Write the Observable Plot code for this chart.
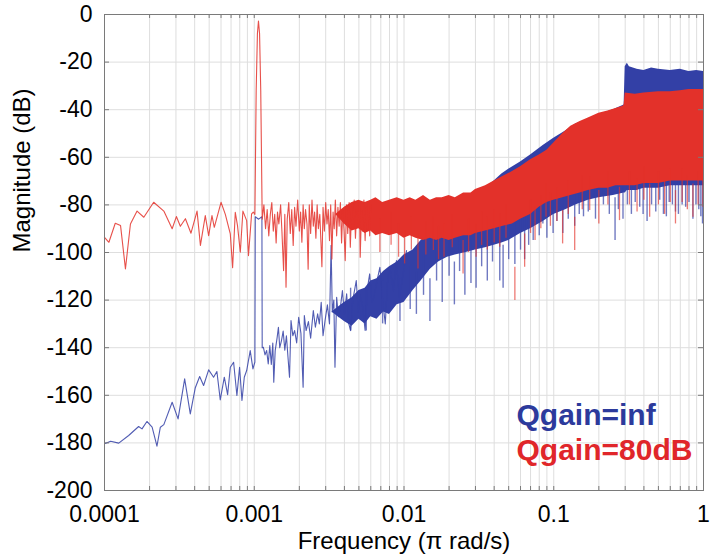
<!DOCTYPE html>
<html><head><meta charset="utf-8">
<script src="https://cdn.jsdelivr.net/npm/d3@7"></script>
<script src="https://cdn.jsdelivr.net/npm/@observablehq/plot@0.6"></script>
<style>body{margin:0;background:#fff;}</style>
</head><body><div id="chart"></div>
<script>
// ---------- tick labels ----------
const xTickValues = [0.0001, 0.001, 0.01, 0.1, 1];
const xTickLabels = ["0.0001", "0.001", "0.01", "0.1", "1"];
const yTickValues = [-200, -180, -160, -140, -120, -100, -80, -60, -40, -20, 0];
const yTickLabels = ["-200", "-180", "-160", "-140", "-120", "-100", "-80", "-60", "-40", "-20", "0"];
const xAxisLabel = "Frequency (\u03c0 rad/s)";
const yAxisLabel = "Magnitude (dB)";
const seriesNames = ["Qgain=inf", "Qgain=80dB"];

// ---------- Qgain=inf (blue): sparse trace ----------
const blueLineF = [1e-4,1.1e-4,1.245e-4,1.45e-4,1.69e-4,1.78e-4,1.92e-4,2.08e-4,2.24e-4,2.36e-4,2.49e-4,2.83e-4,3.1e-4,3.43e-4,3.74e-4,4.04e-4,4.32e-4,4.59e-4,4.96e-4,5.35e-4,5.63e-4,5.93e-4,6.31e-4,6.64e-4,6.92e-4,7.28e-4,7.66e-4,7.98e-4,8.28e-4,8.58e-4,8.9e-4,9.4e-4,9.8e-4,1.01e-3,1.016e-3,1.07e-3,1.125e-3,1.13e-3,
1.15e-3,1.18e-3,1.21e-3,1.24e-3,1.27e-3,1.30e-3,1.33e-3,1.35e-3,1.38e-3,1.42e-3,1.45e-3,1.48e-3,1.52e-3,1.56e-3,1.60e-3,1.64e-3,1.68e-3,1.72e-3,1.76e-3,1.81e-3,1.86e-3,1.92e-3,1.98e-3,2.05e-3,2.12e-3,2.16e-3,2.22e-3,2.30e-3,2.38e-3,2.48e-3,2.56e-3,2.65e-3,2.72e-3,2.80e-3,2.88e-3,2.97e-3,3.08e-3,3.18e-3,3.26e-3,3.32e-3,3.40e-3,3.46e-3,3.55e-3,3.65e-3,3.76e-3,3.88e-3,4.0e-3,4.14e-3,4.28e-3,4.4e-3,4.55e-3,4.8e-3,4.95e-3,5.1e-3,5.3e-3,5.5e-3,5.7e-3,5.9e-3,6.1e-3,6.3e-3,6.6e-3,6.9e-3,7.2e-3,7.5e-3,7.8e-3,8.1e-3,8.5e-3,8.9e-3,9.3e-3,9.7e-3,1.04e-2];
const blueLineV = [-180.4,-179.3,-180.1,-176.9,-173.1,-174.1,-171,-173.4,-181.4,-173.4,-172.3,-162.9,-169.9,-153.1,-167.8,-156.8,-152.1,-155.9,-149.3,-152.4,-150,-161.9,-152.4,-159.7,-148.2,-146.1,-160.1,-148.2,-162.2,-152.4,-149.6,-141.2,-148.9,-146,-85,-86,-85,-140,
-139.8,-143,-141.2,-146.8,-139.1,-147,-138,-154.5,-141.2,-136,-131.4,-140,-137,-133,-141,-135,-144,-152.4,-128.6,-135,-132.8,-138,-127.2,-134,-156.6,-126.5,-132.8,-129,-136,-124.4,-131.4,-125.8,-130,-120.9,-135,-128.6,-122,-130,-97,-125,-120,-148.2,-118.8,-127,-123,-116,-126,-117.4,-130,-132.8,-120,-111.8,-125,-118,-123,-132.8,-115,-109,-121,-118.8,-112,-106.2,-120,-130,-110,-107.6,-116,-103.4,-118.8,-112,-99.2];

// ---------- Qgain=inf (blue): dense band envelope ----------
const blueBandF   = [0.0033,0.004,0.0045,0.005,0.0055,0.006,0.0066,0.0073,0.008,0.009,0.01,0.0115,0.013,0.015,0.017,0.0195,0.022,0.026,0.03,0.035,0.04,0.045,0.05,0.06,0.07,0.085,0.1,0.12,0.14,0.17,0.2,0.25,0.295,0.3,0.31,0.32,0.36,0.4,0.45,0.5,0.6,0.7,0.8,0.9,1];
const blueBandTop = [-125,-121,-119,-116,-115,-112,-111,-108,-106,-104,-101,-99,-95,-92,-89,-87,-84,-80,-77,-73,-70,-67,-65,-62,-59,-55,-52,-49,-46,-44,-42,-40,-38,-22,-20.5,-22,-23,-23.5,-22.5,-23,-23.5,-23,-24,-23.5,-24];
const blueBandBot = [-125,-129,-131,-128,-130,-127,-128,-125,-126,-122,-121,-116,-112,-107,-104,-102,-101,-100,-99,-98,-97,-96,-95,-92,-90,-87,-84,-82,-80,-78,-77,-76,-75,-75,-74,-74,-74,-73,-73,-73,-72,-72,-72,-72,-72];

// ---------- Qgain=inf (blue): downward spikes ----------
const blueSpikeF  = [0.0044,0.0056,0.0072,0.0094,0.011,0.0121,0.0135,0.0149,0.0165,0.018,
0.02,0.0217,0.0235,0.0255,0.028,0.0303,0.033,0.036,0.039,0.0436,
0.0459,0.05,0.055,0.06,0.0639,0.068,0.0729,0.08,0.0846,0.09,
0.099,0.105,0.115,0.125,0.138,0.148,0.158,0.17,0.19,0.2146,
0.235,0.2567,0.27,0.29,0.31,0.33,0.35,0.375,0.395,0.42,
0.45,0.48,0.51,0.54,0.565,0.59,0.62,0.65,0.68,0.72,
0.76,0.8,0.85,0.89,0.93,0.96,0.985];
const blueSpikeLo = [-133,-133,-130,-129,-124,-126,-118,-129,-112,-121,
-110,-122,-108,-118,-113,-115,-106,-112,-104,-112,
-115,-103,-105,-99,-103,-97,-95,-93,-88,-94,
-92,-87,-92,-86,-89,-84,-85,-83,-86,-80,
-84,-95,-82,-86,-80,-84,-79,-81,-84,-87,
-80,-83,-78,-84,-85,-79,-80,-83,-84,-80,
-81,-79,-86,-80,-82,-85,-88];

// ---------- Qgain=80dB (red): sparse trace ----------
const redLineF = [1.00e-4,1.07e-4,1.18e-4,1.28e-4,1.38e-4,1.49e-4,1.65e-4,1.83e-4,2.13e-4,2.49e-4,2.83e-4,3.02e-4,3.21e-4,3.47e-4,3.78e-4,4.15e-4,4.37e-4,4.71e-4,4.96e-4,5.22e-4,5.41e-4,6.0e-4,6.41e-4,6.92e-4,7.17e-4,7.47e-4,7.73e-4,8.07e-4,8.4e-4,8.9e-4,9.15e-4,9.6e-4,9.85e-4,1.01e-3,1.03e-3,1.05e-3,1.067e-3,1.085e-3,1.105e-3,
0.00113,0.00116,0.00119,0.00122,0.00125,0.00128,0.00131,0.00134,0.00137,0.0014,0.00143,0.00146,0.0015,0.00153,0.00157,0.0016,0.00163,0.00166,0.0017,0.00174,0.00178,0.00182,0.00186,0.0019,0.00195,0.002,0.00204,0.00208,0.00212,0.00216,0.0022,0.00225,0.00229,0.00233,0.00238,0.00243,0.00248,0.00253,0.00258,0.00263,0.00268,0.00274,0.00279,0.00283,0.00288,0.00294,0.003,0.00306,0.00312,0.00318,0.00324,0.0033,0.00336,0.00342,0.00348,0.00355,0.00362,0.00369,0.00376,0.00383,0.0039,0.00398,0.00405,0.00413,0.00421,0.0043,0.00438,0.00447,0.00456,0.00465,0.00474,0.00484,0.00494,0.00504,0.0051,0.0052,0.0053,0.0054,0.0055,0.0056,0.0057,0.0058,0.0059,0.006];
const redLineV = [-93.6,-95.7,-87.7,-88.7,-106.9,-88,-82.6,-85.2,-78.9,-82.6,-90,-84.9,-89,-85.8,-91.9,-82.6,-97,-84.5,-92.9,-84.5,-89.4,-78.9,-84,-92.2,-106.4,-83.1,-88.7,-99.9,-82.6,-86.6,-101.3,-83.8,-83,-84,-32,-8,-2.8,-8,-32,
-86,-80,-90,-82,-93,-84,-79,-91,-84,-96,-83,-88,-80,-91,-107.6,-84,-114.6,-86,-79,-92,-82,-97,-81,-89,-78,-91,-83,-95.7,-80,-90,-82,-88,-107,-80,-92,-78,-89,-83,-94,-80,-90,-84,-96,-106,-81,-91,-79,-88,-82,-95,-80,-102.7,-83,-90,-78,-93,-81,-89,-79,-96,-82,-91,-103.4,-80,-92,-79,-97.8,-81,-90,-78,-94,-82,-89,-79,-102,-83,-91,-78,-95,-81,-90,-79,-93,-80];

// ---------- Qgain=80dB (red): dense band envelope ----------
const redBandF   = [0.0035,0.004,0.0045,0.005,0.0055,0.006,0.0065,0.0072,0.008,0.009,0.01,0.011,0.012,0.0135,0.015,0.0165,0.018,0.02,0.022,0.025,0.028,0.03,0.035,0.04,0.046,0.053,0.06,0.07,0.08,0.09,0.1,0.115,0.13,0.15,0.17,0.2,0.23,0.26,0.29,0.295,0.3,0.35,0.4,0.5,0.6,0.7,0.8,0.9,1];
const redBandTop = [-84,-81,-79,-78,-79,-78,-77,-79,-78,-77,-78,-77,-78,-76,-78,-77,-77,-76,-77,-75,-75,-73.5,-72,-70,-68,-66,-64,-61,-59,-57,-54,-50,-47,-45,-43.5,-41.5,-40.5,-39.5,-38.5,-38,-33,-33.5,-33,-32.5,-32.5,-32,-31.5,-31.5,-31.5];
const redBandBot = [-84,-88,-91,-90,-92,-91,-93,-92,-93,-92,-94,-93,-94,-95,-94,-95,-94,-95,-94,-93,-93,-92,-91,-90,-89,-88,-86,-84,-81,-79,-78,-77,-76,-75,-74,-73,-73,-72,-72,-72,-72,-72,-71,-71,-70,-70,-70,-70,-70];

// ---------- Qgain=80dB (red): downward spikes ----------
const redSpikeF  = [0.0069,0.0082,0.0092,0.0101,0.0112,0.0124,0.014,0.0157,0.017,0.0185,
0.021,0.0248,0.027,0.0303,0.033,0.036,0.04,0.0436,0.048,0.055,
0.0639,0.07,0.075,0.082,0.0888,0.095,0.105,0.1146,0.125,0.138,
0.155,0.1738,0.2,0.23,0.2748,0.32,0.36,0.4,0.437,0.5,
0.55,0.6,0.65,0.72,0.78,0.85,0.92,0.99];
const redSpikeLo = [-100,-97,-102,-104.8,-99,-106.9,-101,-99.2,-103,-102,
-98,-109,-100,-102,-97,-99,-96,-97.8,-94,-120.2,
-106.2,-92,-95,-90,-85.2,-89,-87,-96.4,-84,-99.2,
-82,-82.4,-88,-80,-86.6,-80,-83,-78,-85.2,-80,
-84,-79,-88,-79,-82,-85.2,-80,-81];

// ---------- build tables ----------
const pts = (f, v) => f.map((x, i) => ({f: x, v: v[i]}));
const band = (f, lo, hi) => f.map((x, i) => ({f: x, lo: lo[i], hi: hi[i]}));
const spikes = (f, lo) => f.map((x, i) => ({f: x, lo: lo[i]}));

const blueLine = pts(blueLineF, blueLineV);
const blueBand = band(blueBandF, blueBandBot, blueBandTop);
const blueSpikes = spikes(blueSpikeF, blueSpikeLo);
const redLine = pts(redLineF, redLineV);
const redBand = band(redBandF, redBandBot, redBandTop);
const redSpikes = spikes(redSpikeF, redSpikeLo);

const minorTicks = [1e-4, 1e-3, 1e-2, 1e-1].flatMap(d => [1,2,3,4,5,6,7,8,9].map(m => d * m)).concat([1]);

const BLUE = "#3340a6", RED = "#e3312a", AX = "#7a7a7a";

const chart = Plot.plot({
  width: 711, height: 559,
  marginLeft: 104, marginRight: 8, marginTop: 14, marginBottom: 69,
  x: {type: "log", domain: [1e-4, 1]},
  y: {domain: [-200, 0]},
  style: {fontFamily: "'Liberation Sans', Arial, sans-serif", fontSize: "23px", color: "#000", background: "#fff"},
  marks: [
    Plot.gridX({ticks: minorTicks, stroke: "#dedede", strokeOpacity: 1}),
    Plot.gridY({ticks: yTickValues, stroke: "#dedede", strokeOpacity: 1}),
    // blue series
    Plot.areaY(blueBand, {x: "f", y1: "lo", y2: "hi", fill: BLUE}),
    Plot.line(blueLine, {x: "f", y: "v", stroke: BLUE, strokeWidth: 1.1, strokeOpacity: 0.85}),
    Plot.ruleX(blueSpikes, {x: "f", y1: "lo", y2: d => d.lo + 18, stroke: BLUE, strokeWidth: 1.4, strokeOpacity: 0.7}),
    // red series
    Plot.areaY(redBand, {x: "f", y1: "lo", y2: "hi", fill: RED}),
    Plot.line(redLine, {x: "f", y: "v", stroke: RED, strokeWidth: 1.1, strokeOpacity: 0.85}),
    Plot.ruleX(redSpikes, {x: "f", y1: "lo", y2: d => d.lo + 14, stroke: RED, strokeWidth: 1.3, strokeOpacity: 0.65}),
    // frame and inner ticks
    Plot.frame({stroke: AX}),
    Plot.ruleX(minorTicks, {x: d => d, insetTop: 472, stroke: AX}),
    Plot.ruleX(minorTicks, {x: d => d, insetBottom: 472, stroke: AX}),
    Plot.ruleY(yTickValues, {y: d => d, insetRight: 594, stroke: AX}),
    Plot.ruleY(yTickValues, {y: d => d, insetLeft: 594, stroke: AX}),
    // axes
    Plot.axisX(xTickValues, {tickSize: 0, tickPadding: 15, fontSize: 23, label: null,
      tickFormat: d => xTickLabels[xTickValues.indexOf(d)]}),
    Plot.axisY(yTickValues, {tickSize: 0, tickPadding: 12, fontSize: 23, label: null,
      tickFormat: d => yTickLabels[yTickValues.indexOf(d)]}),
    Plot.text([xAxisLabel], {frameAnchor: "bottom", dy: 58, fontSize: 24, fill: "#000"}),
    Plot.text([yAxisLabel], {frameAnchor: "left", dx: -82, rotate: -90, fontSize: 24, fill: "#000"}),
    // series labels
    Plot.text([seriesNames[0]], {frameAnchor: "bottom-left", dx: 412, dy: -65.5, textAnchor: "start", fontSize: 30, fontWeight: "bold", fill: "#2c3a9c"}),
    Plot.text([seriesNames[1]], {frameAnchor: "bottom-left", dx: 412, dy: -30.5, textAnchor: "start", fontSize: 30, fontWeight: "bold", fill: "#e0262a"})
  ]
});
document.getElementById("chart").appendChild(chart);
</script>
</body></html>
